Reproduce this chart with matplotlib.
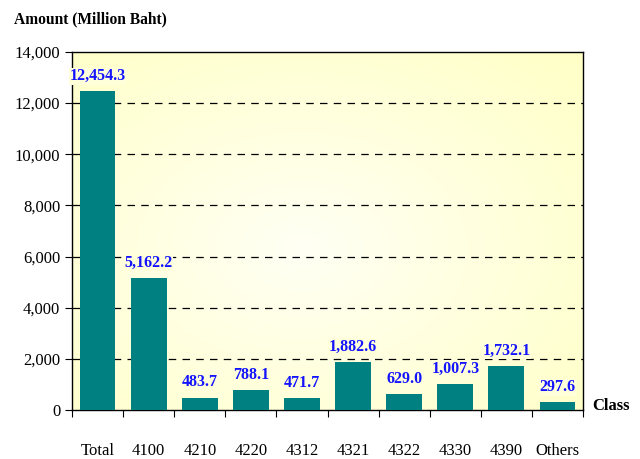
import numpy as np
import matplotlib
matplotlib.use("Agg")
import matplotlib.pyplot as plt
from matplotlib.colors import LinearSegmentedColormap

plt.rcParams['font.family'] = ['Liberation Serif', 'DejaVu Serif']

classes = ['Total', '4100', '4210', '4220', '4312', '4321', '4322', '4330', '4390', 'Others']
amounts = [12454.3, 5162.2, 483.7, 788.1, 471.7, 1882.6, 629.0, 1007.3, 1732.1, 297.6]
yticks = [0, 2000, 4000, 6000, 8000, 10000, 12000, 14000]

fig = plt.figure(figsize=(6.4, 4.59), dpi=100)
ax = fig.add_axes([0.1125, 0.1068, 0.7985, 0.78])

# pale yellow gradient background
n = len(classes)
xx, yy = np.meshgrid(np.linspace(0, 1, 200), np.linspace(0, 1, 200))
g = np.sqrt(((xx - 0.45) / 1.0) ** 2 + ((yy - 0.45) / 1.0) ** 2)
cmap = LinearSegmentedColormap.from_list('bg', ['#FFFFF4', '#FFFFC6'])
ax.imshow(g, cmap=cmap, extent=[-0.5, n - 0.5, 0, 14000], aspect='auto',
          origin='lower', zorder=0)

x = np.arange(n)
ax.bar(x, amounts, width=0.7, color='#008080', zorder=3)

for i, v in enumerate(amounts):
    ax.text(i, v + 280, f'{v:,.1f}', ha='center', va='bottom', color='#1414FF',
            fontsize=11.5, fontweight='bold', zorder=4,
            bbox=dict(facecolor='#FFFFDA', edgecolor='none', pad=0.5))

ax.set_xlim(-0.5, n - 0.5)
ax.set_ylim(0, 14000)
ax.set_yticks(yticks)
ax.set_yticklabels([f'{t:,}' for t in yticks], fontsize=12)
for t in yticks[1:-1]:
    ax.axhline(t, color='black', linestyle=(0, (6, 5)), linewidth=0.9, zorder=1)

ax.set_xticks(np.arange(n + 1) - 0.5)
ax.set_xticklabels([])
ax.set_xticks(x, minor=True)
ax.set_xticklabels(classes, minor=True, fontsize=12)
ax.tick_params(axis='x', which='minor', length=0, pad=24)
ax.tick_params(axis='x', which='major', length=5, direction='out')
ax.tick_params(axis='y', length=5, direction='out')

for s in ax.spines.values():
    s.set_linewidth(1.0)

fig.text(0.022, 0.958, 'Amount (Million Baht)', fontsize=11.2, fontweight='bold',
         va='center', ha='left')
fig.text(0.925, 0.115, 'Class', fontsize=12, fontweight='bold', va='center', ha='left')

fig.savefig('out.png', dpi=100)
